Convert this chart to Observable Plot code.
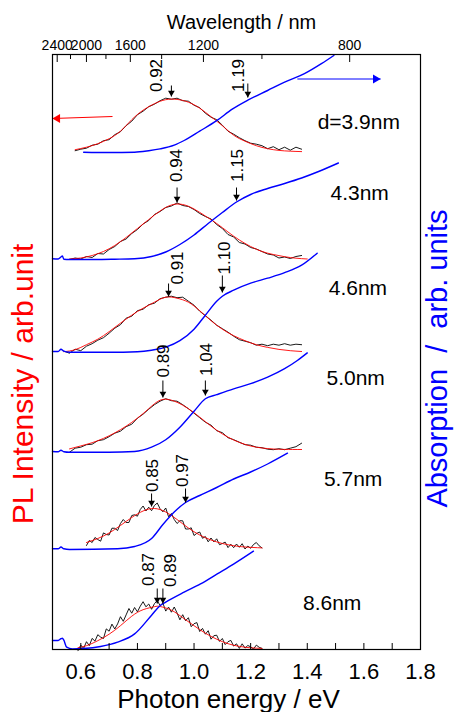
<!DOCTYPE html>
<html><head><meta charset="utf-8">
<script src="https://cdn.jsdelivr.net/npm/d3@7"></script>
<script src="https://cdn.jsdelivr.net/npm/@observablehq/plot@0.6"></script>
<style>body{margin:0;background:#fff} #chart svg{display:block}</style>
</head><body><div id="chart"></div>
<script>
// ---- data (heights in arbitrary units above each trace's baseline) ----
const sizeLabels = ["d=3.9nm","4.3nm","4.6nm","5.0nm","5.7nm","8.6nm"];
const sizeLabelE = [1.582,1.585,1.579,1.571,1.562,1.488];
const sizeLabelY = [527.5,456,361.5,271.5,170,46.5];
const baselines = [497.3,390,297.3,197.3,100,0.3];

// measured PL (black), sampled on a regular energy grid
const plStart = [0.58,0.56,0.54,0.56,0.62,0.59];
const plStep  = [0.02,0.02,0.02,0.02,0.01,0.01];
const pl39 = [1.5,3,4,7,8,11.5,12.5,17.5,20.5,26.5,31,37.5,41,45.5,48,51.5,54,53,54,51.5,51,47,44.5,39,35,32.5,27,21,18,14.5,11.5,9,8,6.5,3.5,5.5,2.5,5,2,5,3];
const pl43 = [0,1.5,0.5,3,2,6,5.5,10,13,18,20.5,26,30,35.5,39,45,48,52,53.5,56.5,54,53,50,46,43,40.5,35,31,25,22.5,17,15.5,12,10.5,8,5.5,4.5,1.5,2.5,1,3,4];
const pl46 = [1,-1,3,1.5,6,8.5,12,14.5,19,24,27.5,34,36,41.5,43,47.5,49,53.5,55,56,54.5,55,51,47,41,36.5,32,27,23.5,20,16,12.5,11,9.5,7,8,6.5,8,7,8.5,7,8,7.5];
const pl50 = [0,4,5,7.5,8,11.5,12.5,15.5,19,21,25.5,28,34,38,43,47.5,51,53.5,51.5,51,47.5,43.5,39,34.5,30,27,21.5,19.5,14.5,12.5,10,7.5,7,5,4.5,3,2.5,3.5,2.5,4,5.5,9];
const pl57 = [4,9,7,12,10,8.3,16.6,15,14.5,21.3,21.2,19,26,30,27,27,34,34.7,33.3,40,43.5,38.5,42.3,38.8,44,46.5,40.7,37.7,41.5,32.8,36,30,26,28.8,28.7,20.5,20.5,21.7,14,16.2,17.5,11.2,13,7.7,11.5,7.6,10.7,4.8,6,7.4,1.9,5.3,1.8,5.5,2.2,5.8,0.5,3.4,1.2,5,7,3.7,1.6];
const pl86 = [-1.5,4.1,0.8,7.5,3.6,10.8,8.1,14.5,12.1,10.7,20.3,18,25.1,20.2,25.3,32.5,27.9,34.3,40.7,36,41.7,37.4,43,47.5,42.4,45.2,39.9,45.5,48.7,43.7,46.1,38.1,42.1,37,42.2,36.3,29.4,34.5,28.5,31.5,22.5,25.5,26.6,17.7,20.8,15,18.5,10,13.5,14,7.8,10.7,4.6,7.5,8.8,3.1,5.4,0.8,5.4,1.1,3.7,2.4,0.2,4.1,1.9,0.8];

// fitted PL (red), [energy, height]
const fit39 = [[0.58,2.5],[0.62,5],[0.66,8.5],[0.70,13.5],[0.74,21],[0.78,32.5],[0.82,42],[0.86,48.5],[0.90,52.5],[0.94,52.8],[0.98,50],[1.02,44],[1.06,35.5],[1.10,26.5],[1.14,17],[1.18,11],[1.22,6.5],[1.26,3.5],[1.30,1.8],[1.34,1.0],[1.38,0.6]];
const fit43 = [[0.56,0.5],[0.60,1.5],[0.64,4],[0.68,8],[0.72,14],[0.76,22],[0.80,31],[0.84,40],[0.88,48.5],[0.92,54.5],[0.96,55],[1.00,50.5],[1.04,43.5],[1.08,36],[1.12,27.5],[1.16,19.5],[1.20,13],[1.24,8],[1.28,5],[1.32,2.8],[1.36,1.3],[1.40,0.5]];
const fit46 = [[0.54,0.5],[0.58,2.5],[0.62,7.5],[0.66,13],[0.70,20.5],[0.74,29],[0.78,37],[0.82,44],[0.86,50],[0.90,55],[0.94,54],[0.98,50],[1.02,41.5],[1.06,31.5],[1.10,23],[1.14,16.5],[1.18,11.5],[1.22,7.5],[1.26,4.8],[1.30,2.8],[1.34,1.5],[1.38,0.7]];
const fit50 = [[0.56,3.3],[0.60,6.3],[0.64,9.5],[0.68,13.8],[0.72,19.3],[0.76,26],[0.80,34],[0.84,43.5],[0.88,52],[0.92,52],[0.96,47],[1.00,39.5],[1.04,30.5],[1.08,22],[1.12,15],[1.16,9.8],[1.20,6.2],[1.24,4.2],[1.28,3.2],[1.32,2.8],[1.38,2.7]];
const fit57 = [[0.62,7],[0.66,11],[0.70,16.5],[0.74,24],[0.78,32],[0.82,38.5],[0.86,41],[0.90,37.5],[0.94,30],[0.98,21.5],[1.02,14.5],[1.06,9.5],[1.10,6],[1.14,3.8],[1.18,2.5],[1.24,1.6]];
const fit86 = [[0.59,1.5],[0.62,3.5],[0.66,8.5],[0.70,15],[0.74,23.5],[0.78,33],[0.82,39.5],[0.86,42.5],[0.88,42.7],[0.92,39],[0.96,31.5],[1.00,23.5],[1.04,16],[1.08,10],[1.12,5.5],[1.16,2.8],[1.20,1.4],[1.24,0.8]];

// absorption (blue), [energy, height]
const abs39 = [[0.61,0],[0.70,-0.3],[0.79,0],[0.84,1.5],[0.88,3.3],[0.93,7],[0.965,11.7],[1.02,21],[1.08,31.5],[1.135,43],[1.19,52],[1.26,61.7],[1.32,70],[1.39,78.5],[1.45,88.5],[1.494,96.7]];
const abs43 = [[0.50,0.7],[0.52,0.5],[0.53,2.5],[0.535,3.5],[0.54,0.3],[0.56,0],[0.65,0],[0.72,0.3],[0.79,0.8],[0.85,3],[0.90,7.5],[0.95,15],[1.00,24.5],[1.05,36],[1.10,47],[1.15,57.5],[1.20,65],[1.26,71],[1.32,76],[1.38,81.5],[1.44,88],[1.51,96.5]];
const abs46 = [[0.50,0.7],[0.52,0.7],[0.53,3],[0.54,1],[0.56,0],[0.70,0],[0.80,0.5],[0.85,2],[0.90,5],[0.95,11.5],[1.00,23],[1.04,37],[1.08,51],[1.10,56],[1.14,62],[1.20,69],[1.26,74],[1.32,79.5],[1.38,87],[1.435,99]];
const abs50 = [[0.50,0.7],[0.52,0.5],[0.53,2],[0.54,0.5],[0.56,0],[0.70,0],[0.79,0.7],[0.85,5],[0.90,12.5],[0.95,25],[1.00,41],[1.04,53.5],[1.08,57.5],[1.14,63.3],[1.20,68.5],[1.26,75],[1.32,83.5],[1.365,91.7],[1.40,99.3]];
const abs57 = [[0.50,0.7],[0.52,0.7],[0.53,2.5],[0.54,0.7],[0.56,0],[0.73,0.7],[0.79,3],[0.85,11],[0.89,25],[0.93,37.5],[0.97,47],[1.02,54],[1.08,62],[1.14,70.5],[1.20,77.5],[1.26,85.5],[1.33,96.3]];
const abs86 = [[0.50,8.7],[0.52,8.7],[0.53,10.5],[0.535,11],[0.54,9],[0.55,2],[0.57,0.3],[0.61,0.7],[0.67,2.7],[0.73,7],[0.79,15.3],[0.85,34],[0.88,43.5],[0.90,47],[0.965,57],[1.023,65.3],[1.082,75.3],[1.141,85.3],[1.21,98]];

// peak / edge annotations
const annText  = ["0.92","1.19","0.94","1.15","0.91","1.10","0.89","1.04","0.85","0.97","0.87","0.89"];
const annE     = [0.92,1.19,0.94,1.15,0.91,1.10,0.89,1.04,0.85,0.97,0.87,0.89];
const annTop   = [564,566,462,462,366,374,269,269,156,161,61,61];
const annTip   = [553,552,447,449,353,357,252,254,143,147,46,46];
const annLabE  = [0.866,1.156,0.939,1.153,0.941,1.108,0.892,1.045,0.853,0.961,0.841,0.918];
const annLabY  = [574,574,484,484,381.5,391.5,288.5,290,174,179,80,79];

// side arrows (PL -> left axis, absorption -> right axis)
const sideX1 = [0.712,1.365], sideX2 = [0.5,1.659], sideY1 = [533,570.5], sideY2 = [531,570.5], sideColor = ["red","blue"];

// axes
const bottomMajor = [0.6,0.8,1.0,1.2,1.4,1.6,1.8];
const bottomMinor = [0.7,0.9,1.1,1.3,1.5,1.7];
const topMajorNm = [2400,2000,1600,1200,800];
const topMinorNm = [2200,1800,1400,1000];
const xTitle = "Photon energy / eV", topTitle = "Wavelength / nm";
const leftTitle = "PL Intensity / arb.unit", rightTitle = "Absorption  /  arb. units";

// ---- build tables ----
const HC = 1239.84;
const plList = [pl39,pl43,pl46,pl50,pl57,pl86];
const fitList = [fit39,fit43,fit46,fit50,fit57,fit86];
const absList = [abs39,abs43,abs46,abs50,abs57,abs86];
const plRows = plList.flatMap((vals,i)=>vals.map((h,j)=>({E:+(plStart[i]+j*plStep[i]).toFixed(3), v:baselines[i]+h, s:i})));
const fitRows = fitList.flatMap((p,i)=>p.map(([E,h])=>({E, v:baselines[i]+h, s:i})));
const absRows = absList.flatMap((p,i)=>p.map(([E,h])=>({E, v:baselines[i]+h, s:i})));
const annRows = annText.map((t,i)=>({t, E:annE[i], top:annTop[i], tip:annTip[i], lx:annLabE[i], ly:annLabY[i]}));
const sizeRows = sizeLabels.map((t,i)=>({t, E:sizeLabelE[i], v:sizeLabelY[i]}));
const sideRows = sideColor.map((c,i)=>({c, x1:sideX1[i], x2:sideX2[i], y1:sideY1[i], y2:sideY2[i]}));
const leftRows = sideRows.filter(d => d.x2 < d.x1), rightRows = sideRows.filter(d => d.x2 > d.x1);

const chart = Plot.plot({
  width: 454, height: 712,
  marginLeft: 52, marginRight: 34, marginTop: 54, marginBottom: 63,
  x: {domain: [0.5, 1.8]},
  y: {domain: [0, 595], axis: null},
  style: {fontFamily: "'Liberation Sans', Arial, sans-serif", background: "white", overflow: "visible", color: "black"},
  marks: [
    Plot.line(plRows, {x:"E", y:"v", z:"s", stroke:"black", strokeWidth:0.9}),
    Plot.line(fitRows, {x:"E", y:"v", z:"s", stroke:"red", strokeWidth:0.9, curve:"natural"}),
    Plot.line(absRows, {x:"E", y:"v", z:"s", stroke:"blue", strokeWidth:1.4, curve:"monotone-x"}),
    // peak / edge arrows: shaft + filled head
    Plot.link(annRows, {x1:"E", x2:"E", y1:"top", y2:"tip", stroke:"black", strokeWidth:1}),
    Plot.dot(annRows, {x:"E", y:"tip", symbol:"triangle", r:2.5, fill:"black", stroke:null, rotate:180, dy:-3.8}),
    Plot.text(annRows, {x:"lx", y:"ly", text:"t", rotate:-90, fontSize:17}),
    Plot.text(sizeRows, {x:"E", y:"v", text:"t", fontSize:21}),
    // side arrows
    Plot.link(sideRows, {x1:"x1", x2:"x2", y1:"y1", y2:"y2", stroke:"c", strokeWidth:1}),
    Plot.dot(leftRows, {x:"x2", y:"y2", symbol:"triangle", r:3.3, fill:"c", stroke:null, rotate:-90, dx:5}),
    Plot.dot(rightRows, {x:"x2", y:"y2", symbol:"triangle", r:3.3, fill:"c", stroke:null, rotate:90, dx:-5}),
    // axes
    Plot.axisX({anchor:"bottom", ticks:bottomMajor, tickSize:-6, tickPadding:19.4, fontSize:22, label:null, tickFormat:d=>d.toFixed(1)}),
    Plot.axisX({anchor:"bottom", ticks:bottomMinor, tickSize:-6, label:null, tickFormat:()=>""}),
    Plot.axisX({anchor:"top", ticks:topMajorNm.map(w=>HC/w), tickSize:-7, tickPadding:11.7, fontSize:14, label:null, tickFormat:e=>String(Math.round(HC/e))}),
    Plot.axisX({anchor:"top", ticks:topMinorNm.map(w=>HC/w), tickSize:-4, label:null, tickFormat:()=>""}),
    Plot.frame({strokeWidth:1.2}),
    Plot.text([xTitle], {text:d=>d, frameAnchor:"bottom", dy:58, dx:-8, lineAnchor:"bottom", fontSize:26}),
    Plot.text([topTitle], {text:d=>d, frameAnchor:"top", dy:-25.7, dx:5, lineAnchor:"bottom", fontSize:20}),
    Plot.text([leftTitle], {text:d=>d, frameAnchor:"left", textAnchor:"middle", lineAnchor:"middle", rotate:-90, dx:-29, dy:32, fontSize:30, fill:"red"}),
    Plot.text([rightTitle], {text:d=>d, frameAnchor:"right", textAnchor:"middle", lineAnchor:"middle", rotate:-90, dx:17, dy:6.5, fontSize:29, fill:"blue"})
  ]
});
document.getElementById("chart").append(chart);
</script>
</body></html>
